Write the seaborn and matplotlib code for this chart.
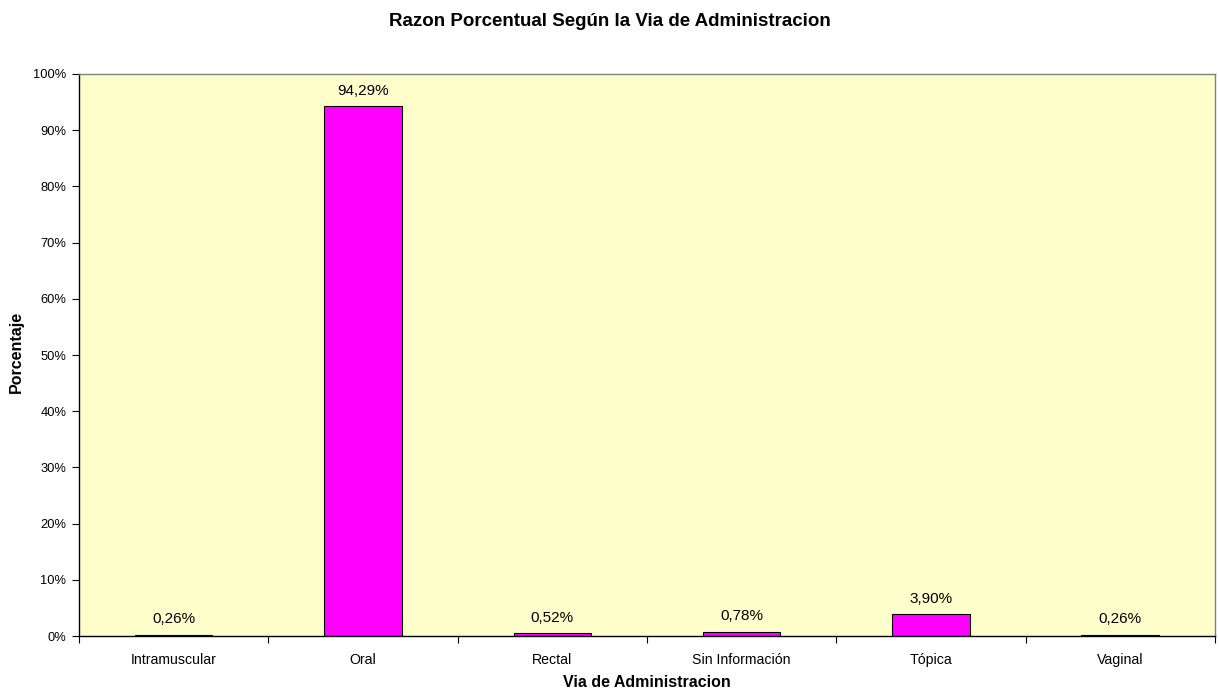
import matplotlib
matplotlib.use("Agg")
import matplotlib.pyplot as plt
from matplotlib.ticker import FixedLocator, PercentFormatter
import seaborn as sns
import pandas as pd

categories = ["Intramuscular", "Oral", "Rectal", "Sin Información", "Tópica", "Vaginal"]
percentages = [0.26, 94.29, 0.52, 0.78, 3.90, 0.26]
y_ticks = list(range(0, 101, 10))

sns.set_theme(style="white")
plt.rcParams["font.family"] = ["Liberation Sans", "DejaVu Sans"]
plt.rcParams.update({"text.color": "black", "axes.labelcolor": "black",
                     "xtick.color": "black", "ytick.color": "black"})

df = pd.DataFrame({"via": categories, "pct": percentages})

fig = plt.figure(figsize=(12.19, 7.0), dpi=100)
ax = fig.add_axes([0.0648, 0.0914, 0.9319, 0.8029])
ax.set_facecolor("#FFFFCC")

sns.barplot(data=df, x="via", y="pct", color="#FF00FF", saturation=1,
            width=0.41, edgecolor="black", linewidth=0.8, ax=ax)

ax.set_xlim(-0.5, len(categories) - 0.5)
ax.set_ylim(0, 100)
ax.set_yticks(y_ticks)
ax.yaxis.set_major_formatter(PercentFormatter(decimals=0))
ax.tick_params(axis="y", which="major", length=5, width=0.8, color="black",
               direction="out", left=True, labelsize=9.3, pad=4)
ax.tick_params(axis="x", which="major", length=0, labelsize=10.2, pad=12)
ax.xaxis.set_minor_locator(FixedLocator([i + 0.5 for i in range(-1, len(categories))]))
ax.tick_params(axis="x", which="minor", length=5, width=0.8, color="black",
               direction="out", bottom=True)

for side in ["top", "right"]:
    ax.spines[side].set_color("#808080")
    ax.spines[side].set_linewidth(1.0)
for side in ["left", "bottom"]:
    ax.spines[side].set_color("black")
    ax.spines[side].set_linewidth(1.0)

for i, v in enumerate(percentages):
    ax.annotate(f"{v:.2f}%".replace(".", ","), (i, v), xytext=(0, 6),
                textcoords="offset points", ha="center", va="bottom", fontsize=11)

ax.set_xlabel("Via de Administracion", fontsize=11.5, fontweight="bold", labelpad=6)
ax.set_ylabel("Porcentaje", fontsize=11.5, fontweight="bold")
ax.yaxis.set_label_coords(-0.0484, 0.505)
fig.suptitle("Razon Porcentual Según la Via de Administracion", fontsize=13.5,
             fontweight="bold", y=0.982)

fig.savefig("out.png", dpi=100)
